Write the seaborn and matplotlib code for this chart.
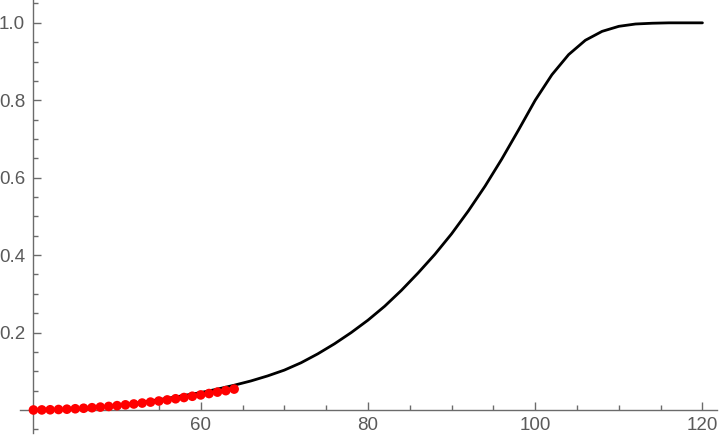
import matplotlib
matplotlib.use("Agg")
import matplotlib.pyplot as plt
import seaborn as sns

# smooth black curve
curve_x = [40, 44, 48, 52, 56, 60, 62, 64, 66, 68, 70, 72, 74, 76, 78, 80,
           82, 84, 86, 88, 90, 92, 94, 96, 98, 100, 102, 104, 106, 108, 110,
           112, 114, 116, 120]
curve_y = [0.0, 0.002, 0.008, 0.017, 0.030, 0.045, 0.054, 0.064, 0.075, 0.088,
           0.103, 0.122, 0.145, 0.171, 0.200, 0.232, 0.268, 0.309, 0.354, 0.402,
           0.455, 0.514, 0.578, 0.648, 0.723, 0.800, 0.866, 0.918, 0.955, 0.978,
           0.991, 0.997, 0.999, 1.0, 1.0]

# red points
dot_x = [40, 41, 42, 43, 44, 45, 46, 47, 48, 49, 50, 51, 52,
         53, 54, 55, 56, 57, 58, 59, 60, 61, 62, 63, 64]
dot_y = [0.0, 0.0002, 0.0006, 0.0013, 0.0021, 0.0032, 0.0045, 0.0059, 0.0075,
         0.0092, 0.0112, 0.0133, 0.0155, 0.0179, 0.0204, 0.0232, 0.0260, 0.0290,
         0.0322, 0.0355, 0.0389, 0.0425, 0.0462, 0.0500, 0.0540]

x_major = [60, 80, 100, 120]
x_minor = [45, 50, 55, 65, 70, 75, 85, 90, 95, 105, 110, 115]
y_major = [0.2, 0.4, 0.6, 0.8, 1.0]
y_labels = ["0.2", "0.4", "0.6", "0.8", "1.0"]
y_minor = [-0.05, 0.05, 0.1, 0.15, 0.25, 0.3, 0.35, 0.45, 0.5, 0.55,
           0.65, 0.7, 0.75, 0.85, 0.9, 0.95, 1.05]

sns.set_theme(style="ticks")
plt.rcParams['font.family'] = ['Liberation Sans', 'DejaVu Sans']

fig = plt.figure(figsize=(7.2, 4.4), dpi=100)
ax = fig.add_axes([0, 0, 1, 1])

sns.lineplot(x=curve_x, y=curve_y, color="black", linewidth=2.0, ax=ax)
sns.scatterplot(x=dot_x, y=dot_y, color="red", s=48, edgecolor="none",
                ax=ax, zorder=3)

ax.set_xlim(36.0, 122.1)
ax.set_ylim(-0.0775, 1.059)

# Mathematica style axes crossing at (40, 0)
for side in ["top", "right"]:
    ax.spines[side].set_visible(False)
ax.spines["left"].set_position(("data", 40))
ax.spines["bottom"].set_position(("data", 0))
ax.spines["left"].set_bounds(-0.06, 1.059)
ax.spines["bottom"].set_bounds(38.4, 121.8)
for side in ["left", "bottom"]:
    ax.spines[side].set_color("#6b6b6b")
    ax.spines[side].set_linewidth(1.0)

ax.set_xticks(x_major)
ax.set_xticks(x_minor, minor=True)
ax.set_yticks(y_major, labels=y_labels)
ax.set_yticks(y_minor, minor=True)

ax.tick_params(which="both", direction="in", color="#6b6b6b", width=1.0,
               labelcolor="#5a5a5a", labelsize=13.5)
ax.tick_params(which="major", length=6)
ax.tick_params(which="minor", length=3.5)
ax.tick_params(axis="x", pad=5)
ax.tick_params(axis="y", pad=6)

ax.set_xlabel("")
ax.set_ylabel("")

fig.savefig("out.png", dpi=100)
plt.close(fig)
